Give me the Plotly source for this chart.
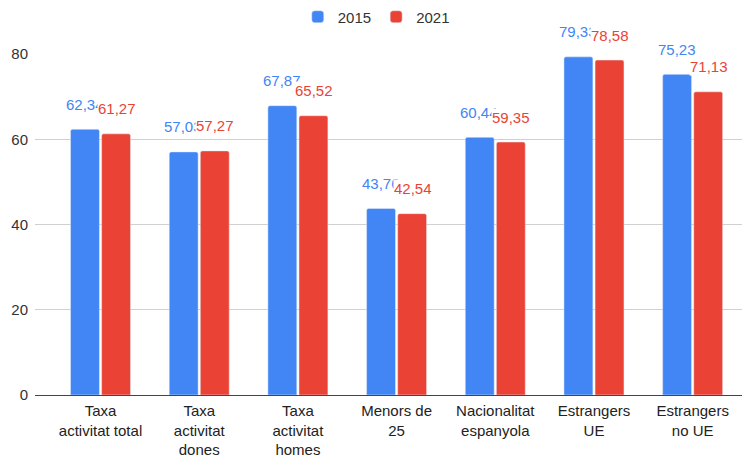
import plotly.graph_objects as go

categories = [
    "Taxa<br>activitat total",
    "Taxa<br>activitat<br>dones",
    "Taxa<br>activitat<br>homes",
    "Menors de<br>25",
    "Nacionalitat<br>espanyola",
    "Estrangers<br>UE",
    "Estrangers<br>no UE",
]
vals_2015 = [62.34, 57.03, 67.87, 43.76, 60.44, 79.33, 75.23]
vals_2021 = [61.27, 57.27, 65.52, 42.54, 59.35, 78.58, 71.13]
y_ticks = [0, 20, 40, 60, 80]

BLUE = "#4285F4"
RED = "#EA4335"
FONT = "Liberation Sans, Arial, sans-serif"

# page body has an 8px margin, so the figure is a bit smaller
W, H = 744, 448


def fmt(v):
    return f"{v:.2f}".replace(".", ",")


fig = go.Figure()
fig.add_trace(go.Bar(x=categories, y=vals_2015, name="2015",
                     marker=dict(color=BLUE, cornerradius=2)))
fig.add_trace(go.Bar(x=categories, y=vals_2021, name="2021",
                     marker=dict(color=RED, cornerradius=2)))

# data labels: blue first, red on top with white background (like Sheets)
for vals, color, shift in [(vals_2015, BLUE, -16), (vals_2021, RED, 16)]:
    for c, v in zip(categories, vals):
        fig.add_annotation(
            x=c, y=v, xshift=shift, yshift=25, yanchor="middle",
            text=fmt(v), showarrow=False, bgcolor="white", borderpad=0,
            font=dict(family=FONT, size=15, color=color),
        )

fig.update_layout(
    width=W, height=H,
    margin=dict(l=27, r=10, t=45.5, b=60.5, autoexpand=False),
    plot_bgcolor="white", paper_bgcolor="white",
    font=dict(family=FONT, size=15, color="#222"),
    barmode="group", bargap=0.37, bargroupgap=0.07,
    legend=dict(
        orientation="h", xref="container", yref="container",
        x=0.495, xanchor="center", y=1 - 9 / H, yanchor="middle",
        font=dict(size=15, color="#333"),
    ),
    xaxis=dict(range=[-0.664, 6.5], showgrid=False, ticklabelstandoff=5,
               tickfont=dict(size=15, color="#222")),
    yaxis=dict(
        range=[0, 80], tickvals=y_ticks, showgrid=True, gridcolor="#d0d0d0",
        zeroline=True, zerolinecolor="#444", zerolinewidth=1,
        tickfont=dict(size=15, color="#333"), ticklabelstandoff=6,
    ),
)

fig.write_html("out.html")
